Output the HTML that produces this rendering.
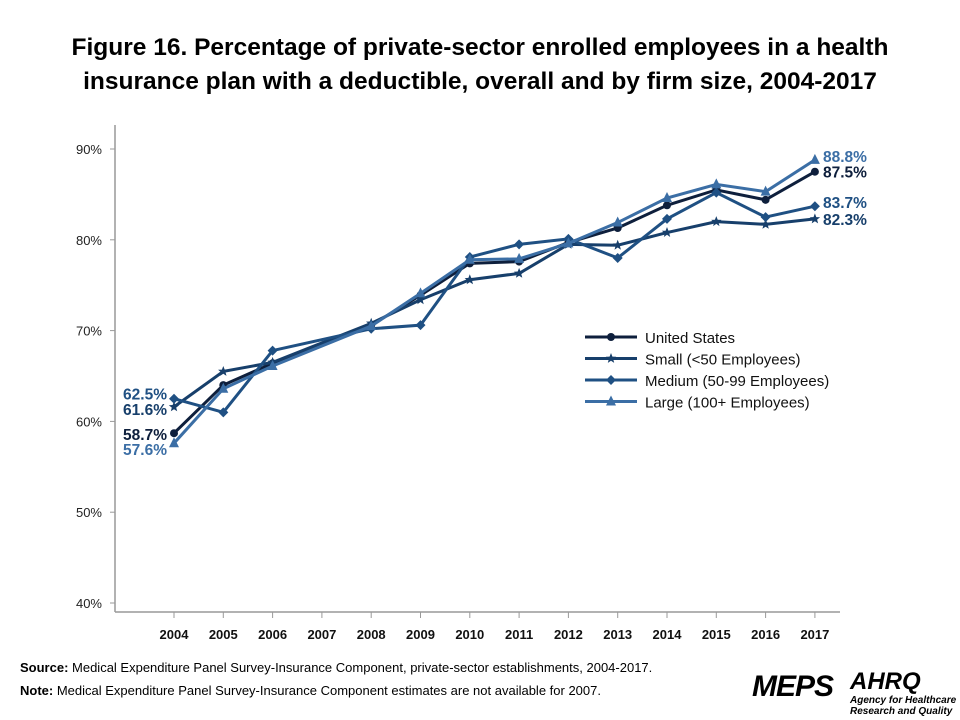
<!DOCTYPE html>
<html><head><meta charset="utf-8"><style>
body{margin:0;width:960px;height:720px;background:#fff;font-family:"Liberation Sans",sans-serif;overflow:hidden;position:relative}
#title{position:absolute;left:0;top:31px;width:960px;text-align:center;font-weight:bold;font-size:24.5px;line-height:34px;color:#000}
.note{position:absolute;left:20px;font-size:13px;color:#000}
</style></head><body>
<div id="title">Figure 16. Percentage of private-sector enrolled employees in a health<br>insurance plan with a deductible, overall and by firm size, 2004-2017</div>
<svg id="chart" width="960" height="720" style="position:absolute;left:0;top:0"></svg>
<div class="note" style="top:660px"><b>Source:</b> Medical Expenditure Panel Survey-Insurance Component,  private-sector establishments, 2004-2017.</div>
<div class="note" style="top:683px"><b>Note:</b> Medical Expenditure Panel Survey-Insurance Component estimates are not available for 2007.</div>
<div style="position:absolute;left:752px;top:670px;font:italic 900 30px 'Liberation Sans',sans-serif;color:#000;letter-spacing:-1px">MEPS</div>
<div style="position:absolute;left:850px;top:668px;font:italic 900 24px 'Liberation Sans',sans-serif;color:#000">AHRQ</div>
<div style="position:absolute;left:850px;top:695px;font:italic bold 10px 'Liberation Sans',sans-serif;line-height:11px">Agency for Healthcare<br>Research and Quality</div>
<script>
const years=[2004,2005,2006,2008,2009,2010,2011,2012,2013,2014,2015,2016,2017];
const tickYears=[2004,2005,2006,2007,2008,2009,2010,2011,2012,2013,2014,2015,2016,2017];
const yTicks=[40,50,60,70,80,90];
const usVals=[58.7,64.0,66.4,70.6,73.9,77.4,77.6,79.7,81.3,83.8,85.5,84.4,87.5];
const smallVals=[61.6,65.5,66.5,70.8,73.4,75.6,76.3,79.5,79.4,80.8,82.0,81.7,82.3];
const mediumVals=[62.5,61.0,67.8,70.2,70.6,78.1,79.5,80.1,78.0,82.3,85.2,82.5,83.7];
const largeVals=[57.6,63.6,66.1,70.5,74.1,77.8,77.9,79.6,81.9,84.6,86.1,85.3,88.8];
const names=["United States","Small (<50 Employees)","Medium (50-99 Employees)","Large (100+ Employees)"];
const svg=document.getElementById('chart');const NS='http://www.w3.org/2000/svg';
const X=y=>174+(y-2004)*49.3;const Y=v=>603-(v-40)*9.08;
function mk(t,a,p){const e=document.createElementNS(NS,t);for(const k in a)e.setAttribute(k,a[k]);(p||svg).appendChild(e);return e;}
let ax=mk('line',{x1:115,y1:125,x2:115,y2:612,stroke:'#999','stroke-width':1.5});


let bx=mk('line',{x1:115,y1:612,x2:840,y2:612,stroke:'#999','stroke-width':1.5});


yTicks.forEach(v=>{mk('line',{x1:110,x2:115,y1:Y(v),y2:Y(v),stroke:'#999'});
const t=mk('text',{x:102,y:Y(v)+5,'text-anchor':'end','font-size':13,fill:'#222'});t.textContent=v+'%';

});
tickYears.forEach(yr=>{mk('line',{x1:X(yr),x2:X(yr),y1:612,y2:618,stroke:'#999'});
const t=mk('text',{x:X(yr),y:639,'text-anchor':'middle','font-size':13,'font-weight':'bold',fill:'#111'});t.textContent=yr;

});
const series=[[usVals,'#0e1f3c','circle'],[smallVals,'#173f6b','star'],[mediumVals,'#1f5083','diamond'],[largeVals,'#3b6ea5','tri']];
function marker(type,x,y,c,g){
 if(type==='circle')return mk('circle',{cx:x,cy:y,r:4,fill:c},g);
 if(type==='diamond')return mk('polygon',{points:`${x},${y-5} ${x+5},${y} ${x},${y+5} ${x-5},${y}`,fill:c},g);
 if(type==='tri')return mk('polygon',{points:`${x},${y-6} ${x+5},${y+4} ${x-5},${y+4}`,fill:c},g);
 let p=[];for(let i=0;i<10;i++){const r=i%2?2.3:5.5,a=-Math.PI/2+i*Math.PI/5;p.push((x+r*Math.cos(a)).toFixed(1)+','+(y+r*Math.sin(a)).toFixed(1));}
 return mk('polygon',{points:p.join(' '),fill:c},g);}
const keys=['united-states','small','medium','large'];
series.forEach(([vals,c,m],i)=>{const g=mk('g',{});


mk('polyline',{points:vals.map((v,j)=>X(years[j])+','+Y(v)).join(' '),fill:'none',stroke:c,'stroke-width':3},g);
vals.forEach((v,j)=>marker(m,X(years[j]),Y(v),c,g));
const lg=mk('g',{});


const ly=337+i*21.5;mk('line',{x1:585,x2:637,y1:ly,y2:ly,stroke:c,'stroke-width':3},lg);marker(m,611,ly,c,lg);
const t=mk('text',{x:645,y:ly+6,'font-size':15,fill:'#111'},lg);t.textContent=names[i];});
const ends=[[usVals,'#0e1f3c'],[smallVals,'#173f6b'],[mediumVals,'#1f5083'],[largeVals,'#3b6ea5']];
const startOff=[1,2,-5,6];
ends.forEach(([vals,c],i)=>{
 const a=mk('text',{x:823,y:Y(vals[12])+6+[0,0,-4,-4][i],'font-size':15.5,'font-weight':'bold',fill:c});a.textContent=vals[12].toFixed(1)+'%';
 
 
 const b=mk('text',{x:167,y:Y(vals[0])+6+startOff[i],'text-anchor':'end','font-size':15.5,'font-weight':'bold',fill:c});b.textContent=vals[0].toFixed(1)+'%';
 
 });
</script>
</body></html>
